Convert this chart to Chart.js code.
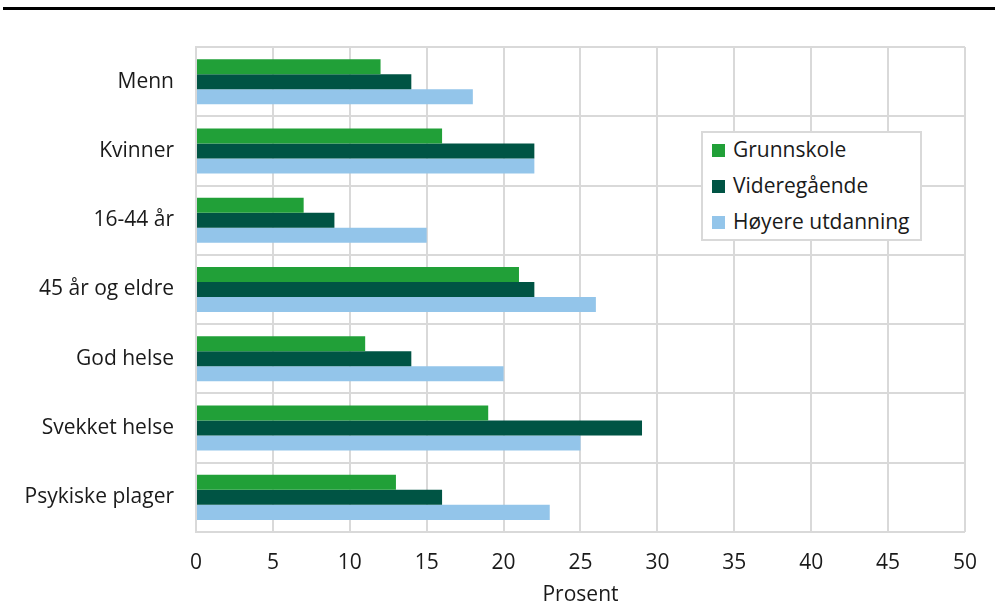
<!DOCTYPE html>
<html>
<head>
<meta charset="utf-8">
<script src="https://cdn.jsdelivr.net/npm/chart.js@4/dist/chart.umd.min.js"></script>
<style>
  html, body { margin: 0; padding: 0; background: #fff; }
  #wrap { position: relative; width: 995px; height: 603px; }
  #legend {
    position: absolute; left: 701px; top: 131px; width: 221px; height: 110px;
    border: 2px solid #d9d9d9; background: #fff; box-sizing: border-box;
    font-family: "Open Sans", sans-serif; font-size: 21px; color: #1a1a1a;
    padding: 0 0 0 9px;
  }
  #legend div { height: 36px; line-height: 32px; white-space: nowrap; }
  #legend span { display: inline-block; width: 13px; height: 13px; margin-right: 8px; vertical-align: 0px; }
</style>
</head>
<body>
<div id="wrap">
  <canvas id="myChart" width="995" height="603"></canvas>
  <div id="legend"></div>
</div>
<script>
const categories = ['Menn', 'Kvinner', '16-44 år', '45 år og eldre', 'God helse', 'Svekket helse', 'Psykiske plager']
const grunnskole = [12, 16, 7, 21, 11, 19, 13]
const videregaende = [14, 22, 9, 22, 14, 29, 16]
const hoyere = [18, 22, 15, 26, 20, 25, 23]
const xTicks = [0, 5, 10, 15, 20, 25, 30, 35, 40, 45, 50]

const seriesNames = ['Grunnskole', 'Videregående', 'Høyere utdanning']
const colors = ['#21a038', '#005444', '#93c5ea']

Chart.defaults.font.family = '"Open Sans", sans-serif'
Chart.defaults.color = '#1a1a1a'

//thick black rule at the top of the figure
const topRule = {
    id: 'topRule',
    beforeDraw(chart){
        const c = chart.ctx
        c.save()
        c.fillStyle = '#000'
        c.fillRect(3, 7, 992, 3)
        c.restore()
    }
}

const ctx = document.getElementById('myChart')
let myChart = new Chart(ctx, {
    type: 'bar',
    data: {
        labels: categories,
        datasets: [grunnskole, videregaende, hoyere].map((d, i) => ({
            label: seriesNames[i],
            data: d,
            backgroundColor: colors[i],
            borderWidth: 0,
            barPercentage: 1,
            categoryPercentage: 0.65
        }))
    },
    options: {
        indexAxis: 'y',
        responsive: false,
        animation: false,
        layout: { padding: { top: 47, right: 25, left: 0, bottom: 0 } },
        plugins: { legend: { display: false }, tooltip: { enabled: false } },
        scales: {
            x: {
                min: 0, max: 50,
                afterBuildTicks: s => { s.ticks = xTicks.map(v => ({ value: v })) },
                afterFit: s => { s.height = 71 },
                grid: { color: '#d9d9d9', lineWidth: 2, drawTicks: false },
                border: { display: false },
                // padding also sets the right gap (half label + padding)
                ticks: { padding: 18, font: { size: 21, lineHeight: 1.2 }, color: '#1a1a1a' },
                title: { display: true, text: 'Prosent', font: { size: 21, lineHeight: 1 }, color: '#1a1a1a', padding: { top: 0, bottom: -3 } }
            },
            y: {
                afterFit: s => { s.width = 196 },
                grid: { color: '#d9d9d9', lineWidth: 2, drawTicks: false },
                border: { color: '#d9d9d9', width: 2 },
                ticks: { padding: 22, font: { size: 21 }, color: '#1a1a1a' }
            }
        }
    },
    plugins: [topRule]
});

//html legend built from the datasets
const legend = document.getElementById('legend')
myChart.data.datasets.forEach(ds => {
    const row = document.createElement('div')
    row.innerHTML = '<span style="background:' + ds.backgroundColor + '"></span>' + ds.label
    legend.appendChild(row)
})
</script>
</body>
</html>
